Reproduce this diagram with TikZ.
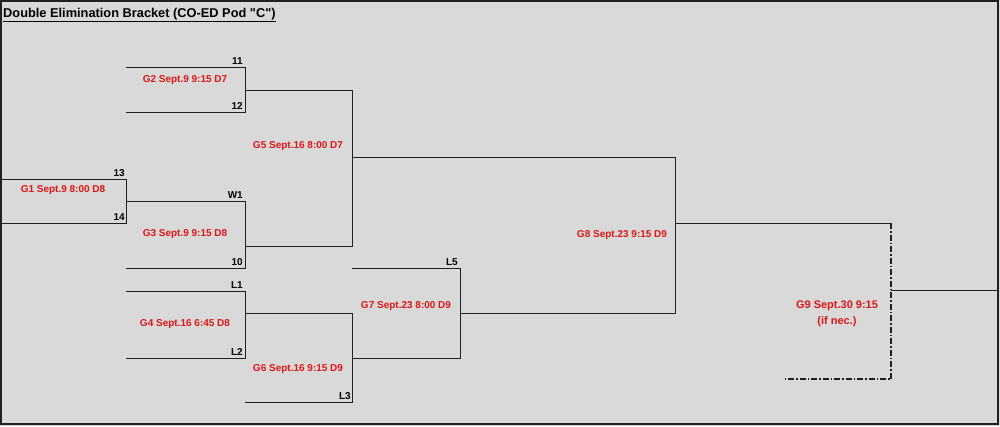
\documentclass[tikz,border=0pt]{standalone}
\usepackage{fontspec}
\setmainfont{Liberation Sans}
\newfontfamily\arialplain{Liberation Sans}[Ligatures=ResetAll]
\definecolor{bg}{HTML}{D9D9D9}
\definecolor{gred}{HTML}{E01515}
\definecolor{ln}{HTML}{202020}
\begin{document}
\begin{tikzpicture}[x=1pt,y=-1pt,
  game/.style={text=gred,font=\bfseries\fontsize{10}{11}\selectfont,align=center,inner sep=0pt},
  seed/.style={font=\bfseries\fontsize{10}{11}\selectfont,anchor=south east,inner sep=0pt},
  br/.style={draw=ln,line width=1pt},
  opt/.style={draw=ln,line width=1.2pt,dash pattern=on 6pt off 2pt on 1.5pt off 2pt}]
\useasboundingbox (0,0) rectangle (1000,426);
\fill[bg] (0,0) rectangle (1000,426);
\draw[line width=2pt,draw=ln] (1,1) rectangle (998,424);
\node[anchor=base west,inner sep=0pt,font=\arialplain\bfseries\fontsize{12.8}{14}\selectfont] (title) at (3,17) {\underline{Double Elimination Bracket (CO-ED Pod "C")}};
% coordinates
\coordinate (g1t) at (1,179); \coordinate (g1tr) at (126,179);
\coordinate (g1b) at (1,223); \coordinate (g1br) at (126,223);
\coordinate (g2t) at (126,67); \coordinate (g2tr) at (245,67);
\coordinate (g2b) at (126,112); \coordinate (g2br) at (245,112);
\coordinate (g3t) at (126,201); \coordinate (g3tr) at (245,201);
\coordinate (g3b) at (126,268); \coordinate (g3br) at (245,268);
\coordinate (g4t) at (126,291); \coordinate (g4tr) at (245,291);
\coordinate (g4b) at (126,358); \coordinate (g4br) at (245,358);
\coordinate (g5t) at (352,90); \coordinate (g5b) at (352,246);
\coordinate (g6t) at (352,313); \coordinate (g6b) at (245,402); \coordinate (g6br) at (352,402);
\coordinate (g7t) at (352,268); \coordinate (g7tr) at (460,268); \coordinate (g7br) at (460,358);
\coordinate (g8t) at (675,157); \coordinate (g8b) at (675,313);
\coordinate (g9t) at (891,223); \coordinate (g9b) at (891,379); \coordinate (g9bl) at (783,379);
\coordinate (g9o) at (891,290); \coordinate (fin) at (997,290);
% G1
\draw[br] (g1t) -- (g1tr) -- (g1br) -- (g1b);
% G2
\draw[br] (g2t) -- (g2tr) -- (g2br) -- (g2b);
% G3
\draw[br] (g3t) -- (g3tr) -- (g3br) -- (g3b);
% G4
\draw[br] (g4t) -- (g4tr) -- (g4br) -- (g4b);
% G5
\draw[br] (245,90) -- (g5t) -- (g5b) -- (245,246);
% G6
\draw[br] (245,313) -- (g6t) -- (g6br) -- (g6b);
% G7
\draw[br] (g7t) -- (g7tr) -- (g7br) -- (352,358);
% G8
\draw[br] (352,157) -- (g8t) -- (g8b) -- (460,313);
% G9
\draw[br] (675,223) -- (g9t);
\draw[opt] (g9t) -- (g9b) -- (g9bl);
\draw[br] (g9o) -- (fin);
% game labels
\node[game] (G1) at (63,190) {G1 Sept.9 8:00 D8};
\node[game] (G2) at (185,80) {G2 Sept.9 9:15 D7};
\node[game] (G3) at (185,234) {G3 Sept.9 9:15 D8};
\node[game] (G4) at (185,324) {G4 Sept.16 6:45 D8};
\node[game] (G5) at (298,146) {G5 Sept.16 8:00 D7};
\node[game] (G6) at (298,369) {G6 Sept.16 9:15 D9};
\node[game] (G7) at (406,306) {G7 Sept.23 8:00 D9};
\node[game] (G8) at (622,235) {G8 Sept.23 9:15 D9};
\node[game,font=\bfseries\fontsize{11}{16}\selectfont] (G9) at (837,314) {G9 Sept.30 9:15\\(if nec.)};
% seeds
\node[seed] (s13) at (125,177) {13};
\node[seed] (s14) at (125,221) {14};
\node[seed] (s11) at (243,65) {11};
\node[seed] (s12) at (243,110) {12};
\node[seed] (sW1) at (243,199) {W1};
\node[seed] (s10) at (243,266) {10};
\node[seed] (sL1) at (243,289) {L1};
\node[seed] (sL2) at (243,356) {L2};
\node[seed] (sL3) at (351,400) {L3};
\node[seed] (sL5) at (458,266) {L5};
\end{tikzpicture}
\end{document}
